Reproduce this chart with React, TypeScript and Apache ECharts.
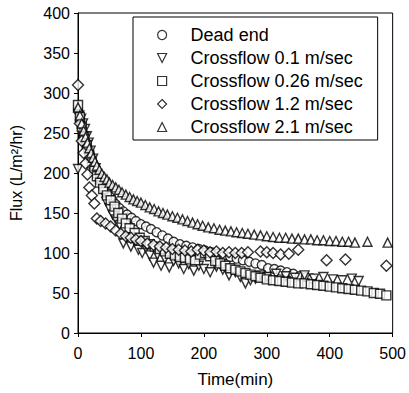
import React, { useEffect, useRef } from "react";
import * as echarts from "echarts";

const xTicks = [0, 100, 200, 300, 400, 500];
const yTicks = [0, 50, 100, 150, 200, 250, 300, 350, 400];

const seriesNames = [
  "Dead end",
  "Crossflow 0.1 m/sec",
  "Crossflow 0.26 m/sec",
  "Crossflow 1.2 m/sec",
  "Crossflow 2.1 m/sec",
];

const deadEndTime = [0, 4, 8, 12, 16, 20, 25, 30, 35, 40, 45, 50, 55, 60, 66, 72, 78, 85, 92, 100, 108, 116, 125, 134, 143, 152, 162, 172, 182, 192, 202, 212, 222, 232, 242, 252, 262, 272, 282, 292, 302, 312, 322, 332, 342, 352, 362, 372];
const deadEndFlux = [278, 265, 250, 238, 228, 218, 208, 198, 190, 183, 177, 171, 166, 161, 156, 152, 148, 144, 140, 136, 133, 130, 126, 122, 118, 114, 111, 109, 107, 105, 103, 101, 99, 97, 95, 93, 91, 89, 87, 85, 81, 80, 78, 76, 74, 71, 70, 68];

const cf01Time = [0, 2, 5, 8, 11, 14, 17, 20, 24, 28, 32, 36, 40, 45, 50, 55, 60, 66, 72, 78, 84, 90, 96, 102, 108, 114, 120, 126, 132, 138, 145, 152, 160, 168, 176, 184, 192, 200, 210, 220, 230, 240, 250, 258, 266, 274, 282, 290, 300, 315, 330, 345, 360, 375, 390, 405, 420, 435, 446];
const cf01Flux = [205, 272, 268, 262, 255, 246, 238, 228, 218, 206, 196, 185, 176, 164, 156, 148, 142, 135, 112, 120, 108, 114, 104, 100, 106, 97, 88, 98, 84, 93, 82, 90, 87, 80, 86, 78, 84, 80, 76, 83, 79, 72, 76, 70, 62, 66, 68, 72, 70, 74, 71, 69, 72, 68, 70, 67, 66, 68, 65];

const cf026Time = [0, 3, 6, 10, 14, 18, 22, 26, 30, 35, 40, 46, 52, 58, 64, 70, 76, 82, 90, 98, 106, 114, 122, 130, 138, 146, 154, 162, 170, 178, 186, 194, 202, 210, 218, 226, 234, 242, 250, 258, 266, 274, 282, 290, 300, 310, 320, 330, 340, 350, 360, 370, 380, 390, 400, 410, 420, 430, 440, 450, 460, 470, 480, 490];
const cf026Flux = [285, 270, 258, 245, 235, 222, 212, 203, 196, 188, 180, 172, 166, 158, 150, 143, 137, 131, 125, 119, 115, 111, 108, 105, 102, 99, 97, 95, 94, 92, 91, 98, 100, 96, 90, 87, 84, 81, 79, 77, 75, 73, 71, 69, 67, 66, 65, 64, 63, 62, 62, 61, 60, 59, 58, 57, 56, 55, 54, 53, 52, 50, 49, 47];

const cf12Time = [0, 3, 6, 9, 12, 15, 18, 22, 26, 30, 36, 44, 52, 60, 68, 76, 84, 92, 100, 110, 120, 130, 140, 150, 160, 170, 180, 190, 200, 210, 220, 230, 240, 250, 260, 270, 290, 300, 310, 322, 335, 350, 395, 425, 490];
const cf12Flux = [310, 262, 240, 225, 212, 198, 182, 172, 162, 143, 140, 137, 133, 128, 124, 121, 119, 117, 115, 112, 110, 108, 107, 105, 104, 103, 102, 104, 103, 101, 102, 100, 101, 100, 100, 101, 102, 101, 100, 98, 99, 104, 91, 92, 84];

const cf21Time = [0, 3, 6, 9, 12, 15, 18, 21, 24, 27, 30, 34, 38, 42, 46, 50, 55, 60, 65, 70, 76, 82, 88, 94, 100, 107, 114, 121, 128, 135, 142, 150, 158, 166, 174, 182, 190, 198, 207, 216, 225, 234, 243, 252, 261, 270, 280, 290, 300, 310, 320, 330, 340, 350, 360, 370, 380, 390, 400, 410, 420, 430, 440, 460, 492];
const cf21Flux = [282, 272, 262, 253, 245, 238, 231, 225, 219, 214, 209, 204, 199, 195, 192, 188, 185, 182, 179, 176, 173, 170, 167, 165, 163, 160, 157, 155, 152, 150, 148, 146, 144, 142, 140, 138, 136, 134, 132, 131, 129, 128, 127, 126, 125, 124, 123, 122, 121, 120, 119, 119, 118, 118, 117, 117, 116, 116, 115, 115, 114, 114, 113, 114, 113];

const zip = (a: number[], b: number[]) => a.map((t, i) => [t, b[i]]);

const FONT = "Liberation Sans, Arial, sans-serif";
const DOWN_TRIANGLE = "path://M0,0 L10,0 L5,10 Z";

export default function App() {
  const ref = useRef<HTMLDivElement>(null);
  useEffect(() => {
    if (!ref.current) return;
    const chart = echarts.init(ref.current, undefined, { renderer: "svg" });
    const markerStyle = { color: "#ffffff", borderColor: "#000000", borderWidth: 1.4 };
    const mk = (name: string, data: number[][], symbol: string, size: number) => ({
      name,
      type: "scatter",
      data,
      symbol,
      symbolSize: size,
      symbolKeepAspect: true,
      itemStyle: markerStyle,
      emphasis: { disabled: true },
    });
    const legendIcons = ["circle", DOWN_TRIANGLE, "rect", "diamond", "triangle"];
    chart.setOption({
      animation: false,
      backgroundColor: "#ffffff",
      textStyle: { fontFamily: FONT, color: "#000" },
      grid: {
        left: 72,
        top: 13,
        right: 12,
        bottom: 60,
        show: true,
        borderColor: "#000",
        borderWidth: 1,
      },
      legend: {
        left: 133,
        top: 17,
        orient: "vertical",
        data: seriesNames.map((n, i) => ({
          name: n,
          icon: legendIcons[i],
          itemStyle: { color: "#fff", borderColor: "#000", borderWidth: 1.2 },
        })),
        itemWidth: 9,
        itemHeight: 9,
        itemGap: 5,
        padding: [9, 15, 4, 24],
        borderColor: "#000",
        borderWidth: 1,
        selectedMode: false,
        textStyle: { fontFamily: FONT, fontSize: 18, color: "#000", padding: [0, 0, 0, 19] },
      },
      xAxis: {
        type: "value",
        min: xTicks[0],
        max: xTicks[xTicks.length - 1],
        interval: 100,
        name: "Time(min)",
        nameLocation: "middle",
        nameGap: 38,
        nameTextStyle: { fontFamily: FONT, fontSize: 17, color: "#000" },
        axisLine: { lineStyle: { color: "#000" } },
        axisTick: { show: true, length: 4, lineStyle: { color: "#000" } },
        axisLabel: { fontFamily: FONT, fontSize: 16, color: "#000", margin: 12 },
        splitLine: { show: false },
      },
      yAxis: {
        type: "value",
        min: yTicks[0],
        max: yTicks[yTicks.length - 1],
        interval: 50,
        name: "Flux (L/m²/hr)",
        nameLocation: "middle",
        nameGap: 54,
        nameTextStyle: { fontFamily: FONT, fontSize: 16, color: "#000" },
        axisLine: { show: true, lineStyle: { color: "#000" } },
        axisTick: { show: true, length: 4, lineStyle: { color: "#000" } },
        axisLabel: { fontFamily: FONT, fontSize: 16, color: "#000", margin: 8 },
        splitLine: { show: false },
      },
      series: [
        mk(seriesNames[0], zip(deadEndTime, deadEndFlux), "circle", 9),
        mk(seriesNames[1], zip(cf01Time, cf01Flux), DOWN_TRIANGLE, 9),
        mk(seriesNames[2], zip(cf026Time, cf026Flux), "rect", 9),
        mk(seriesNames[3], zip(cf12Time, cf12Flux), "diamond", 11),
        mk(seriesNames[4], zip(cf21Time, cf21Flux), "triangle", 9),
      ],
    });
    return () => chart.dispose();
  }, []);
  return <div ref={ref} style={{ width: 409, height: 393, position: "absolute", left: 0, top: 0 }} />;
}
